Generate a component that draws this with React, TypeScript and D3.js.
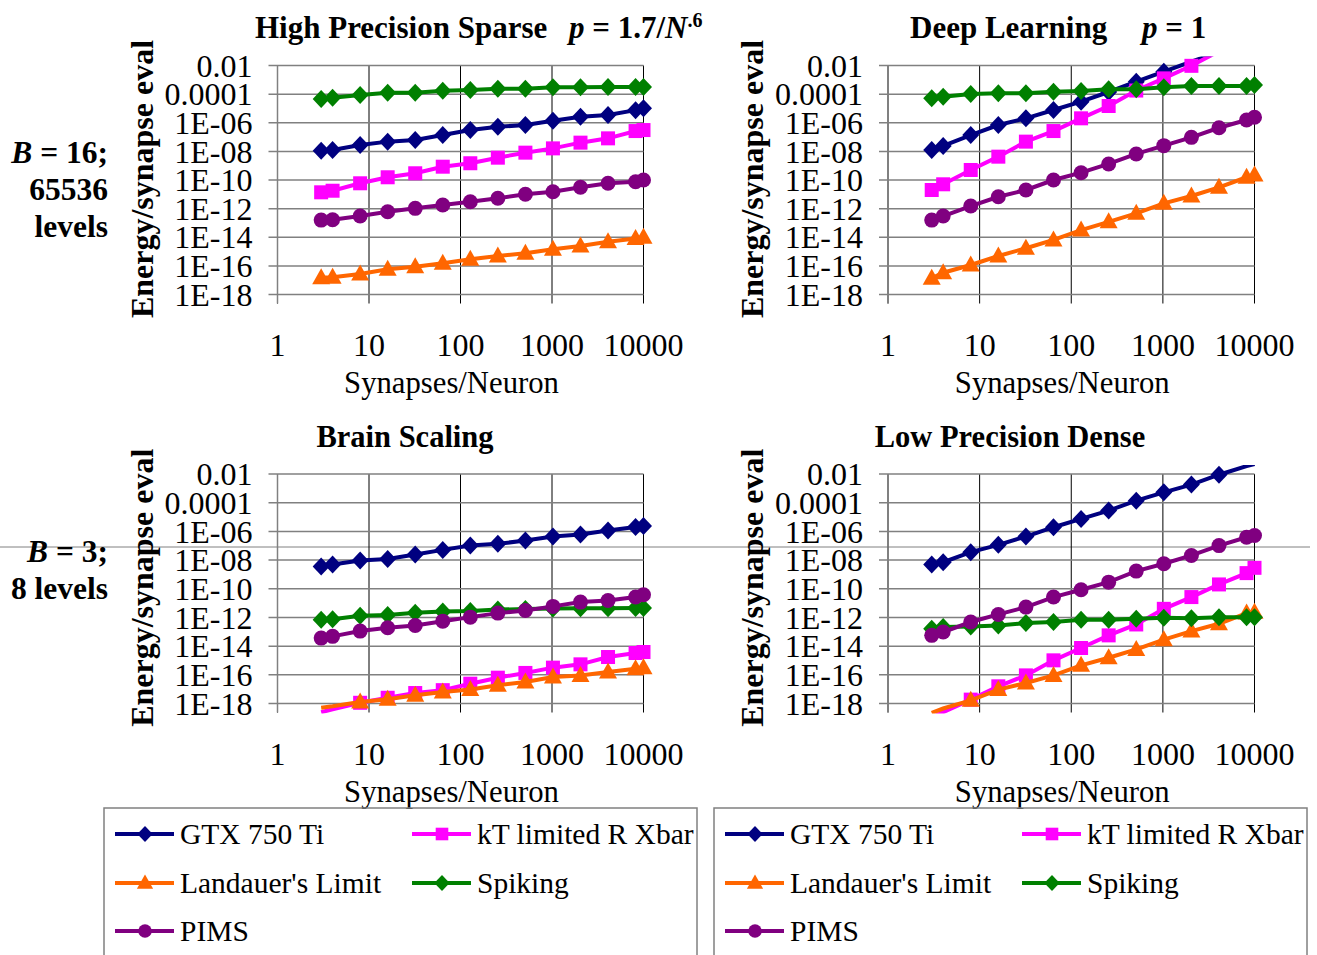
import React from 'react';
import * as d3 from 'd3';

const synapses = [3, 4, 8, 16, 32, 64, 128, 256, 512, 1024, 2048, 4096, 8192, 10000];
const xTickValues = [1, 10, 100, 1000, 10000];
const xTickLabels = ['1', '10', '100', '1000', '10000'];
const yTickValues = [1e-2, 1e-4, 1e-6, 1e-8, 1e-10, 1e-12, 1e-14, 1e-16, 1e-18];
const yTickLabels = ['0.01', '0.0001', '1E-06', '1E-08', '1E-10', '1E-12', '1E-14', '1E-16', '1E-18'];

const seriesNames = ['GTX 750 Ti', 'kT limited R Xbar', "Landauer's Limit", 'Spiking', 'PIMS'];
const seriesColors = ['#000080', '#FF00FF', '#FF6600', '#008000', '#800080'];
const seriesMarkers = ['diamond', 'square', 'triangle', 'diamond', 'circle'];

// High Precision Sparse
const hpsGtx = [1.12e-8, 1.26e-8, 2.75e-8, 4.79e-8, 6.17e-8, 1.38e-7, 3.09e-7, 5.25e-7, 6.92e-7, 1.38e-6, 2.63e-6, 3.47e-6, 7.59e-6, 1.02e-5];
const hpsKt = [1.38e-11, 1.78e-11, 5.89e-11, 1.55e-10, 2.95e-10, 8.51e-10, 1.48e-9, 3.63e-9, 8.13e-9, 1.62e-8, 4.07e-8, 8.13e-8, 2.63e-7, 3.09e-7];
const hpsLandauer = [1.48e-17, 1.58e-17, 2.69e-17, 5.75e-17, 8.71e-17, 1.51e-16, 2.88e-16, 4.9e-16, 7.59e-16, 1.45e-15, 2.45e-15, 4.9e-15, 8.32e-15, 1.0e-14];
const hpsSpiking = [4.57e-5, 5.62e-5, 8.71e-5, 1.26e-4, 1.26e-4, 1.74e-4, 1.95e-4, 2.4e-4, 2.4e-4, 3.0e-4, 3.0e-4, 3.1e-4, 3.1e-4, 3.2e-4];
const hpsPims = [1.58e-13, 1.66e-13, 3.02e-13, 6.03e-13, 1.05e-12, 1.78e-12, 3.02e-12, 5.25e-12, 1.0e-11, 1.51e-11, 3.09e-11, 5.89e-11, 7.59e-11, 1.0e-10];

// Deep Learning
const dlGtx = [1.26e-8, 2.4e-8, 1.38e-7, 6.92e-7, 2.04e-6, 7.76e-6, 2.95e-5, 1.41e-4, 7.41e-4, 3.72e-3, 1.86e-2, 8.91e-2, 0.437, 0.69];
const dlKt = [2.0e-11, 5.01e-11, 5.01e-10, 4.27e-9, 4.79e-8, 2.63e-7, 2.04e-6, 1.48e-5, 1.78e-4, 1.26e-3, 9.5e-3, 0.1, 1.0, 1.26];
const dlLandauer = [1.35e-17, 3.31e-17, 1.15e-16, 4.9e-16, 1.7e-15, 6.46e-15, 3.16e-14, 1.2e-13, 4.68e-13, 2.34e-12, 7.59e-12, 3.09e-11, 1.55e-10, 2.24e-10];
const dlSpiking = [5.1e-5, 6.6e-5, 1.02e-4, 1.15e-4, 1.15e-4, 1.48e-4, 1.66e-4, 2.19e-4, 2.19e-4, 3.02e-4, 3.72e-4, 3.72e-4, 3.72e-4, 4.37e-4];
const dlPims = [1.58e-13, 3.02e-13, 1.51e-12, 6.76e-12, 2.0e-11, 1.0e-10, 3.24e-10, 1.32e-9, 6.61e-9, 2.51e-8, 9.55e-8, 4.47e-7, 1.55e-6, 2.4e-6];

// Brain Scaling
const bsGtx = [3.55e-9, 4.9e-9, 9.33e-9, 1.2e-8, 2.45e-8, 5.13e-8, 1.02e-7, 1.35e-7, 2.29e-7, 4.37e-7, 6.03e-7, 1.15e-6, 2.0e-6, 2.4e-6];
const bsKt = [2.45e-19, 3.98e-19, 1.12e-18, 2.51e-18, 5.37e-18, 8.51e-18, 2.4e-17, 6.31e-17, 1.35e-16, 3.16e-16, 5.37e-16, 1.74e-15, 3.31e-15, 3.89e-15];
const bsLandauer = [5.13e-19, 6.46e-19, 1.26e-18, 2.0e-18, 3.72e-18, 6.31e-18, 9.33e-18, 1.86e-17, 3.16e-17, 7.08e-17, 9.12e-17, 1.55e-16, 2.63e-16, 3.16e-16];
const bsSpiking = [6.92e-13, 7.59e-13, 1.32e-12, 1.48e-12, 2.09e-12, 2.63e-12, 2.82e-12, 3.55e-12, 3.8e-12, 4.17e-12, 4.37e-12, 4.4e-12, 4.47e-12, 4.5e-12];
const bsPims = [3.63e-14, 4.79e-14, 1.12e-13, 1.91e-13, 2.75e-13, 5.5e-13, 1.05e-12, 2.0e-12, 3.09e-12, 5.89e-12, 1.17e-11, 1.51e-11, 2.63e-11, 3.8e-11];

// Low Precision Dense
const lpdGtx = [4.9e-9, 7.08e-9, 3.55e-8, 1.15e-7, 4.37e-7, 1.95e-6, 7.41e-6, 2.82e-5, 1.38e-4, 5.25e-4, 1.82e-3, 8.91e-3, 3.55e-2, 5.01e-2];
const lpdKt = [1.0e-19, 2.51e-19, 1.86e-18, 1.58e-17, 9.12e-17, 1.02e-15, 7.41e-15, 5.62e-14, 3.24e-13, 3.98e-12, 2.63e-11, 2.0e-10, 1.23e-9, 2.88e-9];
const lpdLandauer = [2.19e-19, 4.47e-19, 1.66e-18, 9.33e-18, 2.69e-17, 9.12e-17, 4.57e-16, 1.55e-15, 5.89e-15, 2.82e-14, 1.12e-13, 3.63e-13, 2.0e-12, 2.34e-12];
const lpdSpiking = [1.62e-13, 2.14e-13, 2.34e-13, 2.75e-13, 4.07e-13, 4.79e-13, 6.92e-13, 6.9e-13, 8.13e-13, 9.55e-13, 8.9e-13, 1.05e-12, 1.05e-12, 1.05e-12];
const lpdPims = [5.62e-14, 9.55e-14, 4.79e-13, 1.62e-12, 5.25e-12, 2.63e-11, 8.51e-11, 2.88e-10, 1.7e-9, 5.5e-9, 2.09e-8, 1.02e-7, 3.89e-7, 5.13e-7];

const FONT = '"Liberation Serif", "Times New Roman", serif';

type PanelDef = {
  id: string;
  x0: number; x1: number; y0: number; y1: number;
  series: number[][];
};

const panels: PanelDef[] = [
  { id: 'hps', x0: 277.5, x1: 643.5, y0: 65.5, y1: 294.5, series: [hpsGtx, hpsKt, hpsLandauer, hpsSpiking, hpsPims] },
  { id: 'dl', x0: 888, x1: 1254.5, y0: 65.5, y1: 294.5, series: [dlGtx, dlKt, dlLandauer, dlSpiking, dlPims] },
  { id: 'bs', x0: 277.5, x1: 643.5, y0: 474, y1: 703.5, series: [bsGtx, bsKt, bsLandauer, bsSpiking, bsPims] },
  { id: 'lpd', x0: 888, x1: 1254.5, y0: 474, y1: 703.5, series: [lpdGtx, lpdKt, lpdLandauer, lpdSpiking, lpdPims] },
];

function Marker({ kind, color, x, y, s = 1 }: { kind: string; color: string; x: number; y: number; s?: number }) {
  if (kind === 'diamond') {
    return <path d={`M${x},${y - 9 * s}L${x + 8.5 * s},${y}L${x},${y + 9 * s}L${x - 8.5 * s},${y}Z`} fill={color} />;
  }
  if (kind === 'square') {
    const h = 7 * s;
    return <rect x={x - h} y={y - h} width={2 * h} height={2 * h} fill={color} />;
  }
  if (kind === 'triangle') {
    return <path d={`M${x},${y - 9.5 * s}L${x + 9 * s},${y + 6.5 * s}L${x - 9 * s},${y + 6.5 * s}Z`} fill={color} />;
  }
  return <circle cx={x} cy={y} r={7.5 * s} fill={color} />;
}

function Panel({ p }: { p: PanelDef }) {
  const x = d3.scaleLog().domain([1, 10000]).range([p.x0, p.x1]);
  const y = d3.scaleLog().domain([1e-18, 1e-2]).range([p.y1, p.y0]);
  const line = d3.line<number>().x((_, i) => x(synapses[i])).y((v) => y(v));
  const clipId = `clip-${p.id}`;
  return (
    <g>
      <defs>
        <clipPath id={clipId}>
          <rect x={p.x0 - 2} y={p.y0 - 9} width={p.x1 - p.x0 + 12} height={p.y1 - p.y0 + 19} />
        </clipPath>
      </defs>
      {xTickValues.map((t) => (
        <line key={`vx${t}`} x1={x(t)} x2={x(t)} y1={p.y0} y2={p.y1 + 9} stroke="#000" strokeWidth={1} />
      ))}
      {yTickValues.map((t) => (
        <line key={`hy${t}`} x1={p.x0 - 9} x2={p.x1} y1={y(t)} y2={y(t)} stroke="#808080" strokeWidth={1.5} />
      ))}
      <line x1={p.x0} x2={p.x0} y1={p.y0} y2={p.y1 + 9} stroke="#808080" strokeWidth={1.5} />
      {yTickValues.map((t, i) => (
        <text key={`yl${t}`} x={p.x0 - 25} y={y(t)} dy="0.35em" textAnchor="end" fontSize={32} fontFamily={FONT}>
          {yTickLabels[i]}
        </text>
      ))}
      {xTickValues.map((t, i) => (
        <text key={`xl${t}`} x={x(t)} y={p.y1 + 50} dy="0.35em" textAnchor="middle" fontSize={32} fontFamily={FONT}>
          {xTickLabels[i]}
        </text>
      ))}
      <text x={(p.x0 + p.x1) / 2 - 9} y={p.y1 + 88} dy="0.35em" textAnchor="middle" fontSize={30.7} fontFamily={FONT}>
        Synapses/Neuron
      </text>
      <text
        transform={`translate(${p.x0 - 136},${(p.y0 + p.y1) / 2 - 1}) rotate(-90)`}
        dy="0.35em"
        textAnchor="middle"
        fontSize={32}
        fontWeight="bold"
        fontFamily={FONT}
      >
        Energy/synapse eval
      </text>
      {p.series.map((vals, si) => (
        <g key={`s${si}`}>
          <path d={line(vals) || ''} fill="none" stroke={seriesColors[si]} strokeWidth={4} clipPath={`url(#${clipId})`} />
          {vals.map((v, i) =>
            v >= 1e-18 && v <= 1e-2 ? (
              <Marker key={i} kind={seriesMarkers[si]} color={seriesColors[si]} x={x(synapses[i])} y={y(v)} />
            ) : null
          )}
        </g>
      ))}
    </g>
  );
}

const legendRows = [834, 883, 931];
const legendLayout = [
  { col: 0, row: 0 },
  { col: 1, row: 0 },
  { col: 0, row: 1 },
  { col: 1, row: 1 },
  { col: 0, row: 2 },
];

function Legend({ ox }: { ox: number }) {
  const colX = [115, 412];
  return (
    <g>
      <rect x={ox + 104} y={808} width={593} height={170} fill="none" stroke="#808080" strokeWidth={1.5} />
      {seriesNames.map((name, i) => {
        const { col, row } = legendLayout[i];
        const lx = ox + colX[col];
        const ly = legendRows[row];
        return (
          <g key={name}>
            <line x1={lx} x2={lx + 59} y1={ly} y2={ly} stroke={seriesColors[i]} strokeWidth={4} />
            <Marker kind={seriesMarkers[i]} color={seriesColors[i]} x={lx + 30} y={ly} s={0.9} />
            <text x={lx + 65} y={ly} dy="0.35em" fontSize={29.5} fontFamily={FONT}>
              {name}
            </text>
          </g>
        );
      })}
    </g>
  );
}

export default function App() {
  return (
    <svg width={1317} height={955} style={{ position: 'absolute', left: 0, top: 0, background: '#fff' }}>
      <rect x={0} y={0} width={1317} height={955} fill="#fff" />
      <line x1={0} x2={1310} y1={547} y2={547} stroke="#808080" strokeWidth={1} />
      {panels.map((p) => (
        <Panel key={p.id} p={p} />
      ))}
      <text x={255} y={38} fontSize={31} fontWeight="bold" fontFamily={FONT}>
        <tspan>High Precision Sparse</tspan>
        <tspan x={569} fontStyle="italic">p</tspan>
        <tspan> = 1.7/</tspan>
        <tspan fontStyle="italic">N</tspan>
        <tspan dy={-11} fontSize={20}>.6</tspan>
      </text>
      <text x={910} y={38} fontSize={31} fontWeight="bold" fontFamily={FONT}>
        <tspan>Deep Learning</tspan>
        <tspan x={1142} fontStyle="italic">p</tspan>
        <tspan> = 1</tspan>
      </text>
      <text x={405} y={447} textAnchor="middle" fontSize={30.5} fontWeight="bold" fontFamily={FONT}>
        Brain Scaling
      </text>
      <text x={1010} y={447} textAnchor="middle" fontSize={30.5} fontWeight="bold" fontFamily={FONT}>
        Low Precision Dense
      </text>
      <g fontSize={31.5} fontWeight="bold" fontFamily={FONT} textAnchor="end">
        <text x={108} y={152} dy="0.35em">
          <tspan fontStyle="italic">B</tspan>
          <tspan> = 16;</tspan>
        </text>
        <text x={108} y={189} dy="0.35em">65536</text>
        <text x={108} y={226} dy="0.35em">levels</text>
        <text x={108} y={551} dy="0.35em">
          <tspan fontStyle="italic">B</tspan>
          <tspan> = 3;</tspan>
        </text>
        <text x={108} y={588} dy="0.35em">8 levels</text>
      </g>
      <Legend ox={0} />
      <Legend ox={610} />
    </svg>
  );
}
